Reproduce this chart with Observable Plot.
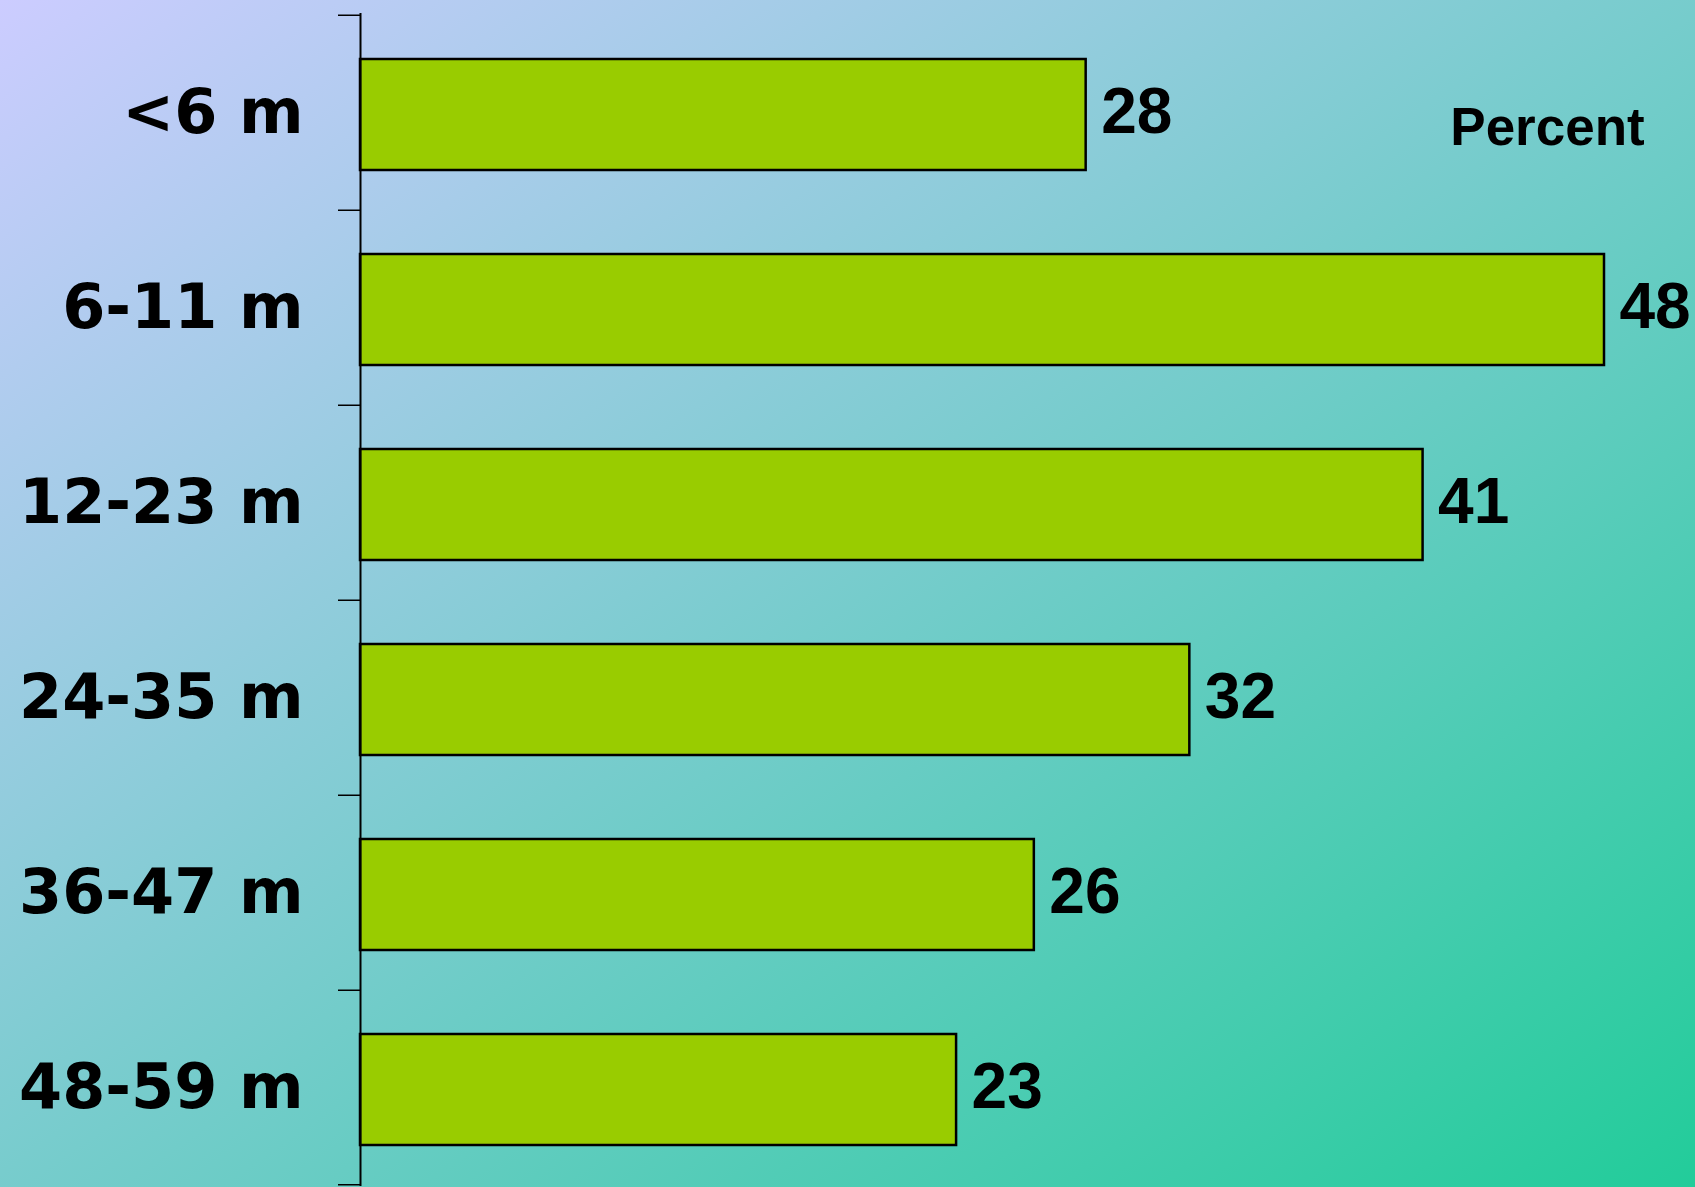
<!DOCTYPE html>
<html>
<head>
<meta charset="utf-8">
<script src="https://cdn.jsdelivr.net/npm/d3@7"></script>
<script src="https://cdn.jsdelivr.net/npm/@observablehq/plot@0.6"></script>
<style>
  html, body { margin: 0; padding: 0; }
  body { width: 1695px; height: 1187px; overflow: hidden;
         background: linear-gradient(to bottom right, #ccccff, #22cc9a); }
</style>
</head>
<body>
<div id="chart"></div>
<script>
const categories = ["<6 m", "6-11 m", "12-23 m", "24-35 m", "36-47 m", "48-59 m"];
const values = [28, 48, 41, 32, 26, 23];
const unitLabel = "Percent";

const data = categories.map((c, i) => ({cat: c, value: values[i]}));

const W = 1695, H = 1187;
const mL = 360, mR = 91, mT = 13, mB = 1;
const bw = (H - mT - mB) / categories.length;
const tickLen = 22;

const chart = Plot.plot({
  width: W,
  height: H,
  marginLeft: mL,
  marginRight: mR,
  marginTop: mT,
  marginBottom: mB,
  style: {background: "transparent", overflow: "visible"},
  x: {domain: [0, 48], axis: null},
  y: {domain: categories, padding: 0, axis: null},
  marks: [
    Plot.barX(data, {
      x: "value", y: "cat",
      fill: "#99cc00", stroke: "black", strokeWidth: 2.5,
      insetTop: 44, insetBottom: 40
    }),
    Plot.ruleX([0], {stroke: "black", strokeWidth: 2}),
    // category boundary ticks (tick marks between categories)
    Plot.ruleY(categories, {
      y: d => d, dy: -bw / 2, dx: -tickLen,
      insetRight: (W - mL - mR) - tickLen,
      stroke: "black", strokeWidth: 1.5
    }),
    Plot.ruleY(categories.slice(-1), {
      y: d => d, dy: bw / 2 - 1, dx: -tickLen,
      insetRight: (W - mL - mR) - tickLen,
      stroke: "black", strokeWidth: 1.5
    }),
    Plot.text(categories, {
      y: d => d, text: d => d, frameAnchor: "left", textAnchor: "end",
      dx: -57, dy: 0,
      fontSize: 62, fontWeight: "bold", fontFamily: "DejaVu Sans",
      fill: "black"
    }),
    Plot.text(data, {
      x: "value", y: "cat", text: d => String(d.value),
      textAnchor: "start", dx: 15,
      fontSize: 64, fontWeight: "bold", fontFamily: "Liberation Sans",
      fill: "black"
    }),
    Plot.text([unitLabel], {
      text: d => d, frameAnchor: "top-right", textAnchor: "middle",
      dx: 1547 - (W - mR), dy: 144 - mT, lineAnchor: "bottom",
      fontSize: 53, fontWeight: "bold", fontFamily: "Liberation Sans",
      fill: "black"
    })
  ]
});
document.getElementById("chart").appendChild(chart);
</script>
</body>
</html>
